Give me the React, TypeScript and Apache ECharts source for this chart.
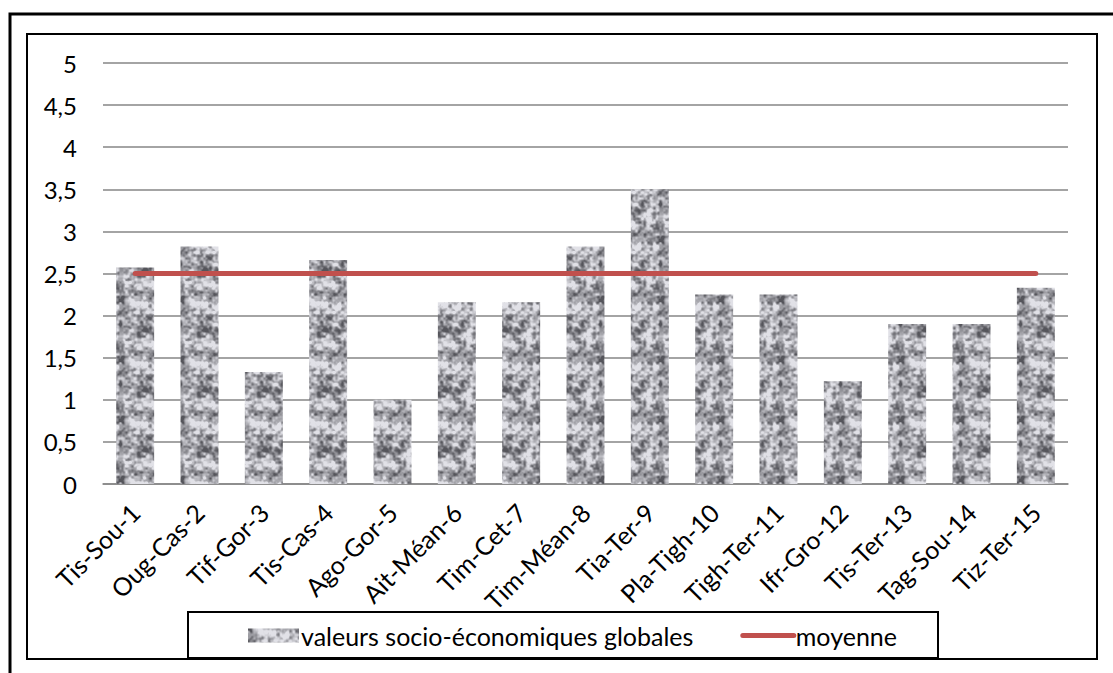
import React, { useEffect, useRef } from "react";
import * as echarts from "echarts";

const categories = [
  "Tis-Sou-1", "Oug-Cas-2", "Tif-Gor-3", "Tis-Cas-4", "Ago-Gor-5",
  "Ait-Méan-6", "Tim-Cet-7", "Tim-Méan-8", "Tia-Ter-9", "Pla-Tigh-10",
  "Tigh-Ter-11", "Ifr-Gro-12", "Tis-Ter-13", "Tag-Sou-14", "Tiz-Ter-15",
];
const globalValues = [2.57, 2.82, 1.33, 2.66, 1.0, 2.16, 2.16, 2.82, 3.5, 2.25, 2.25, 1.22, 1.9, 1.9, 2.33];
const meanValues = [2.5, 2.5, 2.5, 2.5, 2.5, 2.5, 2.5, 2.5, 2.5, 2.5, 2.5, 2.5, 2.5, 2.5, 2.5];
const seriesNames = ["valeurs socio-économiques globales", "moyenne"];
const yTicks = { min: 0, max: 5, interval: 0.5 };

const FONT = "Lato, 'Open Sans', sans-serif";

function makeTexture(): HTMLCanvasElement {
  const size = 60;
  const c = document.createElement("canvas");
  c.width = size;
  c.height = size;
  const ctx = c.getContext("2d")!;
  const img = ctx.createImageData(size, size);
  const hash = (x: number, y: number) => {
    const s = Math.sin(x * 127.1 + y * 311.7) * 43758.5453;
    return s - Math.floor(s);
  };
  const noise = (x: number, y: number, cell: number) => {
    const n = size / cell;
    const gx = x / cell, gy = y / cell;
    const x0 = Math.floor(gx), y0 = Math.floor(gy);
    const fx = gx - x0, fy = gy - y0;
    const sx = fx * fx * (3 - 2 * fx), sy = fy * fy * (3 - 2 * fy);
    const h = (a: number, b: number) => hash(((a % n) + n) % n, ((b % n) + n) % n);
    const a = h(x0, y0), b = h(x0 + 1, y0), cc = h(x0, y0 + 1), d = h(x0 + 1, y0 + 1);
    return (a * (1 - sx) + b * sx) * (1 - sy) + (cc * (1 - sx) + d * sx) * sy;
  };
  for (let y = 0; y < size; y++) {
    for (let x = 0; x < size; x++) {
      const v = 0.4 * noise(x, y, 6) + 0.4 * noise(x, y, 3) + 0.2 * noise(x, y, 2);
      let g = 165 + (v - 0.5) * 320;
      g = Math.max(85, Math.min(225, g));
      const i = (y * size + x) * 4;
      img.data[i] = g;
      img.data[i + 1] = g;
      img.data[i + 2] = g + 6;
      img.data[i + 3] = 255;
    }
  }
  ctx.putImageData(img, 0, 0);
  return c;
}

export default function App() {
  const ref = useRef<HTMLDivElement>(null);
  useEffect(() => {
    if (!ref.current) return;
    const chart = echarts.init(ref.current, undefined, { renderer: "svg" });
    const tex = makeTexture();
    const pattern: any = { image: tex, repeat: "repeat", imageWidth: tex.width, imageHeight: tex.height };
    chart.setOption({
      animation: false,
      backgroundColor: "#ffffff",
      textStyle: { fontFamily: FONT },
      grid: { left: 103, right: 45, top: 63, bottom: 189, containLabel: false },
      xAxis: {
        type: "category",
        data: categories,
        axisLine: { lineStyle: { color: "#868686", width: 1.5 } },
        axisTick: { show: false },
        axisLabel: {
          rotate: 45,
          interval: 0,
          color: "#000",
          fontSize: 25,
          fontFamily: FONT,
          margin: 24,
        },
      },
      yAxis: {
        type: "value",
        min: yTicks.min,
        max: yTicks.max,
        interval: yTicks.interval,
        axisLine: { show: false },
        axisTick: { show: false },
        splitLine: { lineStyle: { color: "#868686", width: 1.5 } },
        axisLabel: {
          color: "#000",
          fontSize: 24,
          fontFamily: FONT,
          margin: 26,
          formatter: (v: number) => String(v).replace(".", ","),
        },
      },
      legend: {
        left: 243,
        top: 618,
        itemWidth: 51,
        itemHeight: 14,
        itemGap: 47,
        textStyle: { color: "#000", fontSize: 25, fontFamily: FONT, padding: [0, 0, 0, -3] },
        data: [
          { name: seriesNames[0], icon: "rect" },
          { name: seriesNames[1], itemStyle: { opacity: 0 }, lineStyle: { color: "#C0504D", width: 5 } },
        ],
      },
      series: [
        {
          name: seriesNames[0],
          type: "bar",
          data: globalValues,
          barWidth: "59%",
          itemStyle: { color: pattern },
        },
        {
          name: seriesNames[1],
          type: "line",
          data: meanValues,
          symbol: "none",
          z: 5,
          lineStyle: { color: "#C0504D", width: 5, cap: "round" },
          itemStyle: { color: "#C0504D" },
        },
      ],
      graphic: [
        { type: "rect", shape: { x: 10, y: 14, width: 1300, height: 900 }, style: { fill: "none", stroke: "#000", lineWidth: 3 }, silent: true },
        { type: "rect", shape: { x: 27, y: 34, width: 1070, height: 625 }, style: { fill: "none", stroke: "#000", lineWidth: 2 }, silent: true },
        { type: "rect", shape: { x: 188, y: 612, width: 750, height: 46 }, style: { fill: "none", stroke: "#000", lineWidth: 2 }, silent: true },
      ],
    });
    return () => chart.dispose();
  }, []);
  return (
    <div
      ref={ref}
      style={{ position: "fixed", left: 0, top: 0, width: 1113, height: 673 }}
    />
  );
}
